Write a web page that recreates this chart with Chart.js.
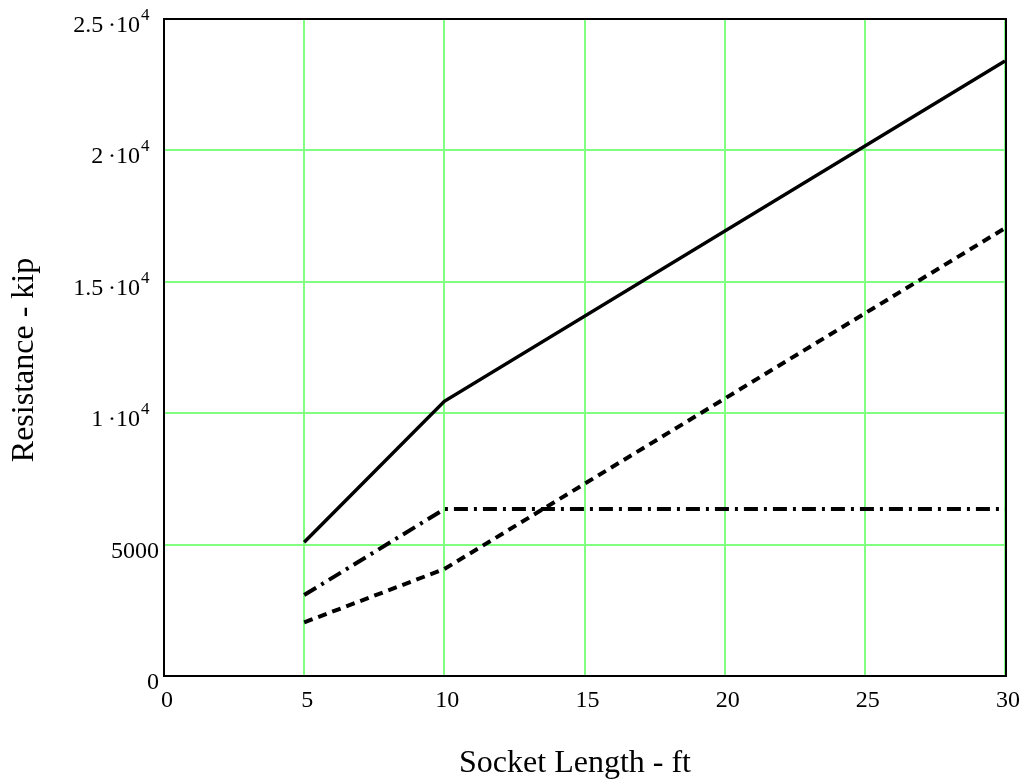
<!DOCTYPE html>
<html>
<head>
<meta charset="utf-8">
<script src="https://cdn.jsdelivr.net/npm/chart.js@4.4.1/dist/chart.umd.min.js"></script>
<style>
  html, body { margin: 0; padding: 0; background: #fff; }
  #wrap { width: 1022px; height: 782px; }
</style>
</head>
<body>
<div id="wrap"><canvas id="socket"></canvas></div>
<script>
// socket length (ft) and resistance (kip)
var socketLength = [5, 10, 30];
var totalRes = [5090, 10450, 23400];     // solid
var sideRes = [2040, 4070, 17040];       // dashed
var tipRes = [3080, 6350, 6350];         // dash-dot
var yTickLabels = [
    { v: 0, base: '0' },
    { v: 5000, base: '5000' },
    { v: 10000, base: '1\u2009\u00b710', exp: '4' },
    { v: 15000, base: '1.5\u2009\u00b710', exp: '4' },
    { v: 20000, base: '2\u2009\u00b710', exp: '4' },
    { v: 25000, base: '2.5\u2009\u00b710', exp: '4' }
];

var serif = '"Liberation Serif", "Times New Roman", serif';

function pts(ys) {
    return socketLength.map(function(x, i) { return { x: x, y: ys[i] }; });
}

// frame, y tick labels with superscripts, axis titles
var mathcadBits = {
    id: 'mathcadBits',
    afterDraw: function(chart) {
        var ctx = chart.ctx, a = chart.chartArea, y = chart.scales.y;
        ctx.save();
        ctx.strokeStyle = '#000';
        ctx.lineWidth = 2;
        ctx.strokeRect(a.left, a.top, a.right - a.left + 1, a.bottom - a.top);

        ctx.fillStyle = '#000';
        ctx.textBaseline = 'alphabetic';
        yTickLabels.forEach(function(t) {
            var py = y.getPixelForValue(t.v);
            ctx.font = '24px ' + serif;
            ctx.textAlign = 'right';
            if (t.exp) {
                ctx.fillText(t.base, a.left - 24, py + 13);
                ctx.font = '17px ' + serif;
                ctx.textAlign = 'left';
                ctx.fillText(t.exp, a.left - 23, py + 1);
            } else {
                ctx.fillText(t.base, a.left - 5, py + 13);
            }
        });

        ctx.font = '32px ' + serif;
        ctx.textAlign = 'center';
        ctx.fillText('Socket Length - ft', 575, 772);
        ctx.translate(33, 360);
        ctx.rotate(-Math.PI / 2);
        ctx.fillText('Resistance - kip', 0, 0);
        ctx.restore();
    }
};

new Chart(document.getElementById('socket'), {
    type: 'line',
    data: {
        datasets: [{
            data: pts(totalRes),
            borderColor: '#000',
            borderWidth: 3.5
        }, {
            data: pts(sideRes),
            borderColor: '#000',
            borderWidth: 4,
            borderDash: [9, 6]
        }, {
            data: pts(tipRes),
            borderColor: '#000',
            borderWidth: 4,
            borderDash: [14, 6, 3, 6]
        }]
    },
    options: {
        responsive: true,
        maintainAspectRatio: false,
        animation: false,
        layout: { padding: { top: 19, right: 17, left: 0, bottom: 0 } },
        elements: { point: { radius: 0 }, line: { tension: 0, fill: false } },
        plugins: { legend: { display: false }, tooltip: { enabled: false } },
        scales: {
            x: {
                type: 'linear',
                min: 0,
                max: 30,
                afterFit: function(s) {
                    s.height = 106;
                    s.paddingLeft = 0;
                    s.paddingRight = 0;
                },
                grid: {
                    color: function(c) { return c.tick.value === 0 ? 'rgba(0,0,0,0)' : 'rgb(128,255,128)'; },
                    lineWidth: 2,
                    drawTicks: false
                },
                border: { display: false },
                ticks: {
                    stepSize: 5,
                    padding: 10,
                    labelOffset: 3,
                    color: '#000',
                    font: { family: serif, size: 24 }
                }
            },
            y: {
                min: 0,
                max: 25000,
                afterFit: function(s) { s.width = 164; },
                grid: {
                    color: 'rgb(128,255,128)',
                    lineWidth: 2,
                    drawTicks: false
                },
                border: { display: false },
                ticks: { stepSize: 5000, display: false }
            }
        }
    },
    plugins: [mathcadBits]
});
</script>
</body>
</html>
